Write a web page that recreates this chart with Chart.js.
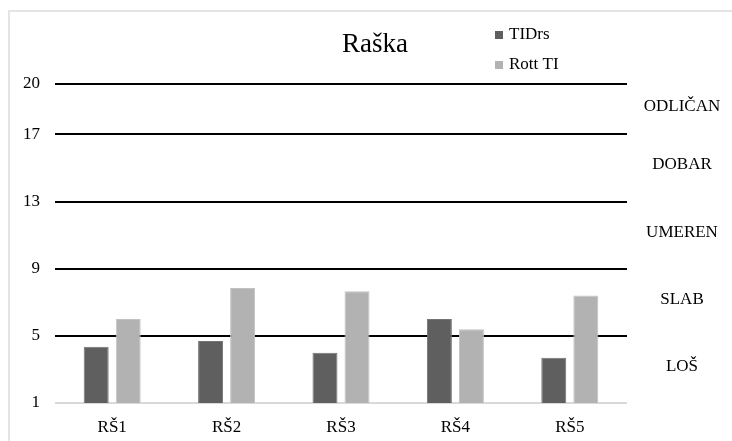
<!DOCTYPE html>
<html>
<head>
<meta charset="utf-8">
<script src="https://cdn.jsdelivr.net/npm/chart.js@4.4.0/dist/chart.umd.min.js"></script>
<style>
  html, body { margin: 0; padding: 0; background: #fff; }
  #wrap { position: relative; width: 732px; height: 441px; overflow: hidden; }
  #frame { position: absolute; left: 8px; top: 10px; width: 760px; height: 460px; border: 2px solid #e4e4e4; box-sizing: border-box; }
  #myChart { position: absolute; left: 0; top: 0; }
</style>
</head>
<body>
<div id="wrap">
  <div id="frame"></div>
  <canvas id="myChart" width="732" height="441"></canvas>
</div>
<script>
var labels = ["RŠ1", "RŠ2", "RŠ3", "RŠ4", "RŠ5"];
var tidrs = [4.35, 4.7, 4.0, 6.0, 3.7];
var rottTi = [6.0, 7.85, 7.65, 5.4, 7.4];
var yTicks = [1, 5, 9, 13, 17, 20];
var zoneNames = ["LOŠ", "SLAB", "UMEREN", "DOBAR", "ODLIČAN"];

var serif = "'Liberation Serif', 'Times New Roman', serif";

// naslov, legenda i oznake zona
var extraText = {
    id: "extraText",
    afterDraw: function(chart) {
        var ctx = chart.ctx;
        var y = chart.scales.y;
        var area = chart.chartArea;
        ctx.save();
        ctx.fillStyle = "#000";
        ctx.textBaseline = "middle";

        ctx.font = "27px " + serif;
        ctx.textAlign = "center";
        ctx.fillText("Raška", 375, 45);

        ctx.font = "17px " + serif;
        ctx.textAlign = "left";
        chart.data.datasets.forEach(function(ds, i) {
            var ly = 35 + i * 30;
            ctx.fillStyle = ds.backgroundColor;
            ctx.fillRect(495, ly - 4, 8, 8);
            ctx.fillStyle = "#000";
            ctx.fillText(ds.label, 509, ly);
        });

        ctx.font = "17px " + serif;
        ctx.textAlign = "center";
        for (var i = 0; i < zoneNames.length; i++) {
            var mid = (yTicks[i] + yTicks[i + 1]) / 2;
            ctx.fillText(zoneNames[i], area.right + 55, y.getPixelForValue(mid) - 3);
        }
        ctx.restore();
    }
};

new Chart(document.getElementById("myChart").getContext("2d"), {
    type: "bar",
    data: {
        labels: labels,
        datasets: [{
            label: "TIDrs",
            data: tidrs,
            backgroundColor: "#5f5f5f",
            borderColor: "#737373",
            borderWidth: 1,
            categoryPercentage: 0.56,
            barPercentage: 0.78
        }, {
            label: "Rott TI",
            data: rottTi,
            backgroundColor: "#b2b2b2",
            borderColor: "#c2c2c2",
            borderWidth: 1,
            categoryPercentage: 0.56,
            barPercentage: 0.78
        }]
    },
    options: {
        responsive: false,
        animation: false,
        layout: { padding: { top: 84, right: 105, left: 0, bottom: 0 } },
        plugins: {
            legend: { display: false },
            title: { display: false },
            tooltip: { enabled: false }
        },
        scales: {
            x: {
                grid: { display: false },
                border: { display: false },
                ticks: { color: "#000", font: { family: serif, size: 17 }, padding: 6 },
                afterFit: function(scale) { scale.height = 38; }
            },
            y: {
                min: 1,
                max: 20,
                afterBuildTicks: function(scale) {
                    scale.ticks = yTicks.map(function(v) { return { value: v }; });
                },
                grid: {
                    color: function(c) { return c.tick && c.tick.value === 1 ? "#d9d9d9" : "#000"; },
                    lineWidth: 2,
                    drawTicks: false
                },
                border: { display: false },
                ticks: { color: "#000", font: { family: serif, size: 17 }, padding: 15 },
                afterFit: function(scale) { scale.width = 55; }
            }
        }
    },
    plugins: [extraText]
});
</script>
</body>
</html>
